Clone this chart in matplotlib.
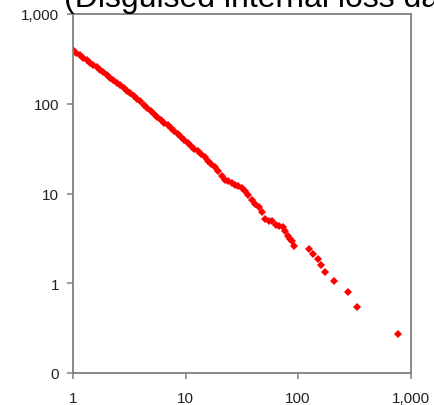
import matplotlib
matplotlib.use("Agg")
import matplotlib.pyplot as plt
from matplotlib.ticker import FixedLocator, NullLocator

plt.rcParams['font.family'] = ['Liberation Sans', 'DejaVu Sans']

# Loss size vs. frequency of exceedance (log-log)
loss_size = [
    1.00, 1.07, 1.15, 1.23, 1.32, 1.41, 1.51, 1.62, 1.74, 1.86,
    2.00, 2.14, 2.29, 2.45, 2.63, 2.82, 3.02, 3.24, 3.47, 3.72,
    3.98, 4.27, 4.57, 4.90, 5.25, 5.62, 6.03, 6.46, 6.92, 7.41,
    7.94, 8.51, 9.12, 9.77, 10.5, 11.2, 12.0, 12.9, 13.8, 14.8,
    15.8, 17.0, 18.2, 19.5, 20.9, 22.4, 24.0, 25.7, 27.5, 29.5,
    31.6, 33.9, 36.3, 38.9, 41.7, 44.7, 47.9, 51.3, 55.0, 58.6,
    64.0, 68.0, 73.4, 77.0, 82.3, 85.5, 88.3, 92.5,
    126.5, 135.8, 149.8, 159.3, 173.5, 208.5, 280.7, 334.0, 774.0,
]
frequency = [
    394, 370, 348, 326, 306, 288, 270, 254, 238, 224,
    209, 196, 183, 171, 160, 149, 140, 131, 122, 114,
    106, 98.0, 90.6, 84.0, 77.8, 72.1, 66.7, 61.8, 57.3, 53.0,
    49.1, 45.5, 42.1, 39.0, 36.1, 33.5, 31.3, 29.4, 27.5, 25.4,
    23.3, 21.4, 19.7, 18.0, 15.5, 14.3, 13.7, 13.2, 12.5, 12.0,
    11.5, 10.7, 9.66, 8.50, 7.60, 7.00, 6.30, 5.20, 4.90, 4.90,
    4.49, 4.35, 4.20, 3.85, 3.39, 3.15, 2.98, 2.62,
    2.39, 2.12, 1.86, 1.61, 1.35, 1.05, 0.80, 0.54, 0.27,
]

x_ticks = [1, 10, 100, 1000]
x_labels = ["1", "10", "100", "1,000"]
y_ticks = [0.1, 1, 10, 100, 1000]
y_labels = ["0", "1", "10", "100", "1,000"]

W, H = 434, 406
fig = plt.figure(figsize=(W / 100, H / 100), dpi=100)
fig.patch.set_facecolor("white")

left, right, top, bottom = 73, 410.5, 15, 374
ax = fig.add_axes([left / W, 1 - bottom / H, (right - left) / W, (bottom - top) / H])

ax.plot(loss_size, frequency, linestyle="none", marker="D", markersize=4.4,
        color="#FF0000", markeredgewidth=0)

ax.set_xscale("log")
ax.set_yscale("log")
ax.set_xlim(1, 1000)
ax.set_ylim(0.1, 1000)

ax.xaxis.set_major_locator(FixedLocator(x_ticks))
ax.xaxis.set_minor_locator(NullLocator())
ax.yaxis.set_major_locator(FixedLocator(y_ticks))
ax.yaxis.set_minor_locator(NullLocator())
ax.set_xticklabels(x_labels)
ax.set_yticklabels(y_labels)

for s in ax.spines.values():
    s.set_color("#808080")
    s.set_linewidth(1.3)

ax.tick_params(axis="both", which="major", direction="out", length=4,
               width=1.1, color="#808080", labelsize=11, labelcolor="#222222")
ax.tick_params(axis="x", pad=9)
ax.tick_params(axis="y", pad=6)

fig.text(64 / W, 1 - 7 / H, "(Disguised internal loss data)", fontsize=23.0,
         ha="left", va="baseline", color="black")

fig.savefig("out.png", dpi=100, facecolor="white")
